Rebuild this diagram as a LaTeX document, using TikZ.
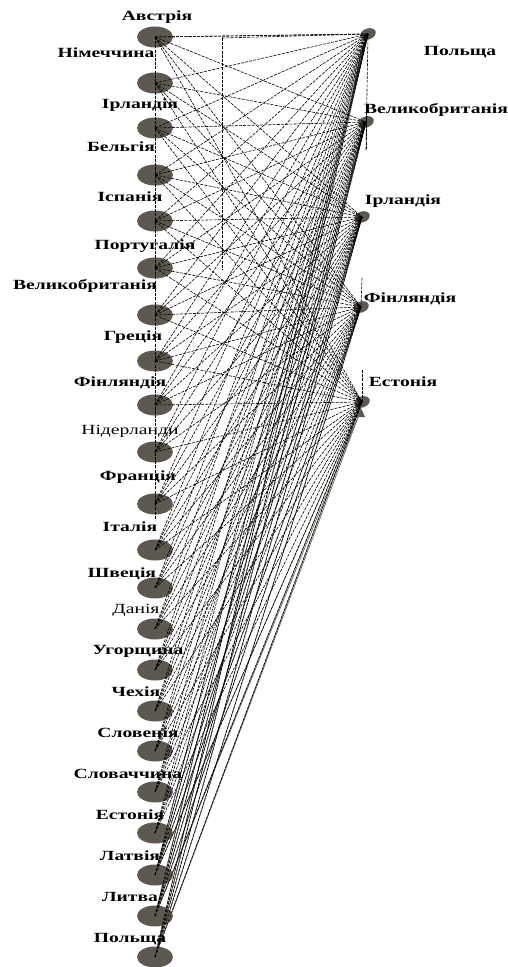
\documentclass[tikz,border=0pt]{standalone}
\usepackage{fontspec}
\newfontfamily\labb[FakeStretch=1.4]{Liberation Serif}
\tikzset{
  lnode/.style={ellipse, minimum width=36pt, minimum height=21pt, fill=nodegray, draw=none, inner sep=0pt},
  rnode/.style={ellipse, minimum width=16pt, minimum height=11pt, fill=nodegray, draw=none, inner sep=0pt, rotate=20},
  lab/.style={font=\labb\fontsize{14}{15}\selectfont\bfseries, inner sep=0pt},
  labr/.style={font=\labb\fontsize{14}{15}\selectfont, inner sep=0pt},
  dedge/.style={black, line width=0.6pt, dash pattern=on 3pt off 1.2pt},
  sedge/.style={edgegray, line width=0.7pt},
}
\usetikzlibrary{shapes.geometric}
\definecolor{nodegray}{HTML}{5E5950}
\definecolor{edgegray}{HTML}{6A655C}
\begin{document}
\begin{tikzpicture}[x=1pt,y=-1pt]
\useasboundingbox (0,0) rectangle (508,967);
% left nodes
\foreach \i/\y in {1/37,2/83,3/128,4/175,5/221,6/268,7/315,8/361,9/405,10/452,11/504,12/550,13/588,14/629,15/670,16/711,17/751,18/792,19/833,20/875,21/916,22/957}{
  \node[lnode] (L\i) at (155,\y) {};
}
% right nodes
\node[rnode] (R1) at (368,34) {};
\node[rnode] (R2) at (366,122) {};
\node[rnode] (R3) at (362,217) {};
\node[rnode] (R4) at (361,307) {};
\node[rnode] (R5) at (362,402) {};
\coordinate (T5) at (360,412);
\fill[nodegray] (355,417) -- (360,406) -- (365,417) -- cycle;
% guide lines
\coordinate (V1) at (222,38);
\coordinate (V2) at (222,270);
\coordinate (V3) at (155,520);
\coordinate (W1) at (366,150);
\coordinate (W2) at (362,278);
\coordinate (W3) at (362,370);
\coordinate (W4) at (366,108);
\draw[dedge] (L1.center) -- (V3);
\draw[dedge] (V1) -- (V2);
\draw[dedge] (V1) -- (R1.center);
\draw[dedge] (L1.center) -- (R1.center);
\draw[dedge] (R1.center) -- (W1);
\draw[dedge] (W4) -- (W1);
\draw[dedge] (W2) -- (R4.center);
\draw[dedge] (W3) -- (R5.center);
% solid edges from the lowest nodes
\foreach \i in {20,21,22}{
  \foreach \j in {1,...,5}{
    \draw[sedge] (L\i.center) -- (R\j.center);
  }
}
\draw[sedge] (L22.center) -- (T5);
\draw[sedge] (L21.center) -- (T5);
% dashed edges from all left nodes to all right nodes
\foreach \i in {1,...,22}{
  \foreach \j in {1,...,5}{
    \draw[dedge] (L\i.center) -- (R\j.center);
  }
}
% left labels
\node[lab] (t1) at (157,17) {Австрія};
\node[lab] (t2) at (106,53) {Німеччина};
\node[lab] (t3) at (140,105) {Ірландія};
\node[lab] (t4) at (121,147) {Бельгія};
\node[lab] (t5) at (130,197) {Іспанія};
\node[lab] (t6) at (145,246) {Португалія};
\node[lab] (t7) at (85,286) {Великобританія};
\node[lab] (t8) at (133,337) {Греція};
\node[lab] (t9) at (120,383) {Фінляндія};
\node[labr] (t10) at (130,431) {Нідерланди};
\node[lab] (t11) at (138,477) {Франція};
\node[lab] (t12) at (130,527) {Італія};
\node[lab] (t13) at (122,574) {Швеція};
\node[labr] (t14) at (136,610) {Данія};
\node[lab] (t15) at (138,651) {Угорщина};
\node[lab] (t16) at (136,692) {Чехія};
\node[lab] (t17) at (138,733) {Словенія};
\node[lab] (t18) at (128,774) {Словаччина};
\node[lab] (t19) at (130,815) {Естонія};
\node[lab] (t20) at (130,856) {Латвія};
\node[lab] (t21) at (130,897) {Литва};
\node[lab] (t22) at (130,939) {Польща};
% right labels
\node[lab] (u1) at (460,52) {Польща};
\node[lab] (u2) at (436,110) {Великобританія};
\node[lab] (u3) at (403,201) {Ірландія};
\node[lab] (u4) at (410,299) {Фінляндія};
\node[lab] (u5) at (403,382) {Естонія};
\end{tikzpicture}
\end{document}
